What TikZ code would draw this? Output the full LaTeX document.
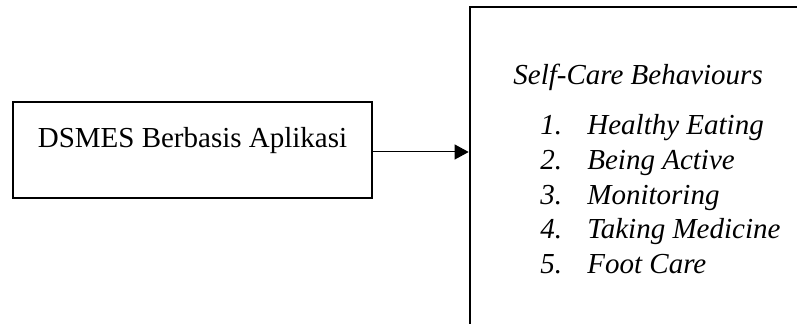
\documentclass[tikz,border=0pt]{standalone}
\usepackage{fontspec}
\setmainfont{Liberation Serif}
\usetikzlibrary{arrows.meta}

\begin{document}
\begin{tikzpicture}[x=0.5pt, y=-0.5pt,
    box/.style={rectangle, draw, line width=1.35pt, inner sep=0pt},
    item/.style={anchor=base west, inner sep=0pt, font=\fontsize{14.5}{17}\selectfont\itshape}]
    \useasboundingbox (0,0) rectangle (797,324);
    \clip (0,0) rectangle (797,324);

    % kotak kiri dan kotak kanan (terpotong di tepi)
    \node[box, minimum width=179.5pt, text height=23pt, text depth=25pt, font=\fontsize{14.5}{17}\selectfont] (dsmes) at (192.5,150) {DSMES Berbasis Aplikasi};
    \node[box, minimum width=180pt, minimum height=176.5pt] (care) at (650,183.5) {};

    \node[item] (judul) at (513,85) {Self-Care Behaviours};
    \node[item] (eating) at (540,135) {\makebox[23.5pt][l]{1.}Healthy Eating};
    \node[item] (active) at (540,170) {\makebox[23.5pt][l]{2.}Being Active};
    \node[item] (monitor) at (540,205) {\makebox[23.5pt][l]{3.}Monitoring};
    \node[item] (medicine) at (540,239) {\makebox[23.5pt][l]{4.}Taking Medicine};
    \node[item] (foot) at (540,274) {\makebox[23.5pt][l]{5.}Foot Care};

    \draw[-{Triangle[length=7pt, width=7.5pt]}, line width=0.5pt] ([yshift=-1pt]dsmes.east) -- ([yshift=-1pt]dsmes.east -| care.west);

\end{tikzpicture}
\end{document}
